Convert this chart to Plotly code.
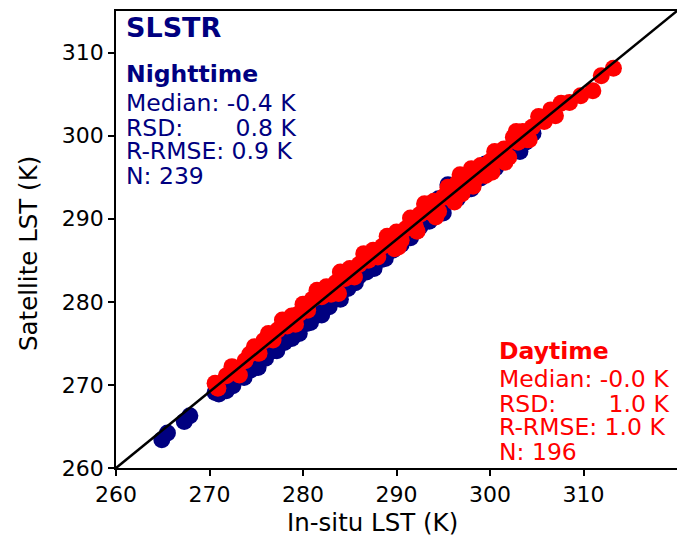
import plotly.graph_objects as go

# Nighttime (in-situ LST, satellite LST) in K
night_insitu = [264.9, 265.5, 267.3, 267.9, 270.6, 271.0, 271.4, 271.8, 272.2, 272.5, 272.9, 273.3, 273.7,
                274.0, 274.4, 274.8, 275.2, 275.6, 276.0, 276.4, 276.8, 277.2, 277.6, 278.0, 278.4, 278.8,
                279.2, 279.6, 280.0, 280.4, 280.8, 281.2, 281.6, 282.0, 282.4, 282.8, 283.2, 283.6, 284.0,
                284.4, 284.8, 285.2, 285.6, 286.0, 286.4, 286.8, 287.2, 287.6, 288.0, 288.4, 288.8, 289.2,
                289.6, 290.0, 290.5, 291.0, 291.5, 292.0, 292.5, 293.0, 293.5, 294.0, 294.5, 295.0, 295.5,
                296.0, 296.5, 297.0, 297.5, 298.0, 298.5, 299.0, 299.5, 300.0, 300.6, 301.2, 301.8, 302.5,
                303.2, 303.8, 304.6]
night_sat = [263.4, 264.2, 265.6, 266.3, 269.1, 268.9, 270.1, 269.3, 270.4, 269.9, 271.5, 271.0, 270.9,
             272.1, 271.8, 273.1, 272.1, 273.3, 273.2, 274.4, 274.1, 274.1, 275.2, 275.1, 276.5, 275.6,
             276.6, 276.2, 277.6, 277.4, 277.5, 278.6, 278.4, 278.4, 279.6, 279.4, 280.8, 280.4, 280.3,
             281.6, 281.6, 282.8, 282.3, 283.1, 284.2, 283.6, 284.4, 284.0, 285.4, 285.1, 285.2, 286.4,
             286.2, 287.3, 286.9, 287.8, 287.7, 289.0, 289.0, 290.9, 289.7, 290.8, 292.4, 290.7, 294.1,
             292.5, 292.4, 293.7, 293.5, 293.6, 295.0, 294.9, 296.6, 296.1, 296.1, 297.4, 297.3, 298.3,
             298.1, 299.2, 300.3]

# Daytime
day_insitu = [270.6, 270.9, 271.8, 272.4, 273.2, 273.8, 274.3, 274.8, 275.3, 275.8, 276.3, 276.8, 277.3,
              277.8, 278.3, 278.8, 279.2, 279.6, 280.0, 280.5, 281.0, 281.5, 282.0, 282.5, 283.0, 283.5,
              284.0, 284.5, 285.0, 285.5, 286.0, 286.5, 287.0, 287.5, 288.0, 288.5, 289.0, 289.5, 290.0,
              290.5, 291.0, 291.5, 292.0, 292.5, 293.0, 293.5, 294.0, 294.5, 295.0, 295.5, 296.0, 296.5,
              297.0, 297.5, 298.0, 298.5, 299.0, 299.5, 300.0, 300.5, 301.0, 301.5, 302.0, 302.5, 303.0,
              303.5, 304.0, 304.5, 305.2, 305.8, 306.5, 307.0, 307.6, 309.7, 311.0, 311.9, 313.2, 308.5,
              279.0, 284.2, 287.8, 291.8, 295.8, 299.8, 302.8, 289.8, 296.8, 283.8,
              290.2, 292.2, 294.2, 296.2, 298.2, 300.2, 301.6, 304.2]
day_sat = [270.2, 269.6, 271.1, 272.2, 271.2, 272.9, 273.7, 274.6, 273.8, 275.3, 276.2, 275.4, 276.6,
           277.8, 277.1, 278.3, 277.3, 278.6, 279.7, 279.0, 280.3, 281.4, 280.6, 281.8, 280.9, 282.3,
           283.6, 282.8, 284.0, 283.0, 284.5, 285.8, 285.0, 286.2, 285.4, 286.7, 287.9, 287.0, 288.4,
           287.4, 288.8, 290.1, 289.1, 290.5, 291.8, 290.8, 292.1, 290.9, 292.6, 293.8, 292.9, 294.3,
           293.0, 294.7, 296.0, 294.9, 296.4, 295.2, 296.9, 298.1, 297.1, 298.4, 297.4, 299.8, 299.2,
           300.5, 299.5, 301.0, 302.3, 301.7, 303.1, 302.4, 303.9, 304.8, 305.4, 307.2, 308.1, 304.0,
           278.3, 283.1, 285.9, 290.0, 293.1, 296.2, 300.5, 286.4, 295.3, 281.0,
           286.6, 288.5, 290.2, 292.0, 293.9, 295.6, 296.8, 299.5]

x_tickvals = [260, 270, 280, 290, 300, 310]
y_tickvals = [260, 270, 280, 290, 300, 310]

NB = "\u00a0"
night_stats = ["Median: -0.4 K", "RSD:" + NB * 6 + " 0.8 K", "R-RMSE: 0.9 K", "N: 239"]
day_stats = ["Median: -0.0 K", "RSD:" + NB * 6 + " 1.0 K", "R-RMSE: 1.0 K", "N: 196"]

FONT = "DejaVu Sans"
NAVY = "#000080"
RED = "#ff0000"
MS = 17

# page geometry: visible window 677x544; the axes box runs past the right edge of the window
WIN_W, WIN_H = 677, 544
PL, PT, PB = 116, 11, 468          # plot box left/top/bottom in page pixels
VIS_R = 677                        # visible right edge of the axes box (x = 320 K)
EXT_R = 682                        # actual right edge (hidden beyond the window)
X0, X_VIS = 260, 320
X1 = X0 + (X_VIS - X0) * (EXT_R - PL) / (VIS_R - PL)

fig = go.Figure()
fig.add_trace(go.Scatter(x=night_insitu, y=night_sat, mode="markers",
                         marker=dict(color=NAVY, size=MS, line=dict(width=0)), showlegend=False))
fig.add_trace(go.Scatter(x=day_insitu, y=day_sat, mode="markers",
                         marker=dict(color=RED, size=MS, line=dict(width=0)), showlegend=False))

# diagonal reference line from the bottom-left corner to the visible top-right corner
fig.add_shape(type="line", xref="x domain", yref="y domain", x0=0, y0=0,
              x1=(VIS_R - PL) / (EXT_R - PL), y1=1,
              line=dict(color="black", width=2.5), layer="above")

W, H = EXT_R, WIN_H
L, R, T, B = PL, 0, PT, H - PB

def px(xp):
    return (xp - PL) / (EXT_R - PL)

def py(yp):
    return (PB - yp) / (PB - PT)

anns = []
anns.append(dict(text="<b>SLSTR</b>", x=px(124), y=py(27), font=dict(size=27, color=NAVY)))
anns.append(dict(text="<b>Nighttime</b>", x=px(124), y=py(74), font=dict(size=23.5, color=NAVY)))
for t, yy in zip(night_stats, [103, 128, 151, 176]):
    anns.append(dict(text=t, x=px(124), y=py(yy), font=dict(size=23.5, color=NAVY)))
anns.append(dict(text="<b>Daytime</b>", x=px(497), y=py(351), font=dict(size=23.5, color=RED)))
for t, yy in zip(day_stats, [379, 404, 427, 452]):
    anns.append(dict(text=t, x=px(497), y=py(yy), font=dict(size=23.5, color=RED)))
for a in anns:
    a.update(xref="paper", yref="paper", xanchor="left", yanchor="middle", showarrow=False)
    fig.add_annotation(**a)

# axis titles
fig.add_annotation(text="In-situ LST (K)", x=px(372), y=py(522), xref="paper", yref="paper",
                   xanchor="center", yanchor="middle", showarrow=False, font=dict(size=24.5, color="black"))
fig.add_annotation(text="Satellite LST (K)", x=px(29), y=py(254), xref="paper", yref="paper",
                   xanchor="center", yanchor="middle", showarrow=False, textangle=-90,
                   font=dict(size=24.5, color="black"))

axis_common = dict(showgrid=False, zeroline=False, showline=True, linecolor="black", linewidth=1.5,
                   ticks="outside", ticklen=6, tickwidth=1.5, tickcolor="black",
                   tickfont=dict(size=22, color="black", family=FONT))
fig.update_xaxes(range=[X0, X1], tickvals=x_tickvals, mirror=True, **axis_common)
fig.update_yaxes(range=[260, 315], tickvals=y_tickvals, mirror=False, **axis_common)

fig.update_layout(width=W, height=H, margin=dict(l=L, r=R, t=T, b=B),
                  paper_bgcolor="white", plot_bgcolor="white",
                  font=dict(family=FONT, color="black"))
fig.write_html("out.html", config={"displayModeBar": False},
               post_script="document.body.style.margin='0';document.body.style.overflow='hidden';")
